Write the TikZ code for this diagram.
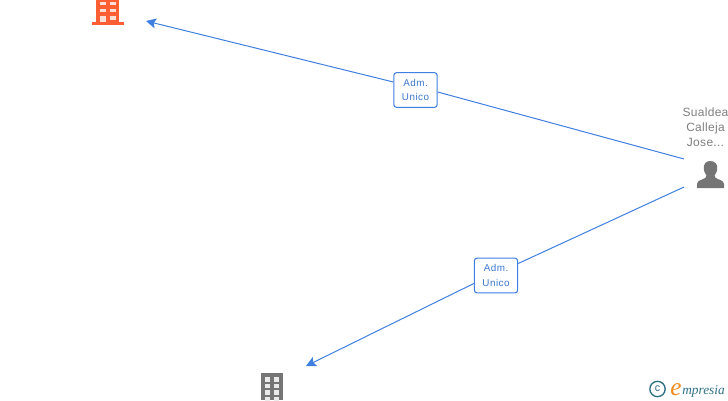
\documentclass[tikz,border=0pt]{standalone}
\usepackage{fontspec}
\setmainfont{Liberation Sans}
\newfontfamily\logofont{Liberation Serif}
\newfontfamily\spacedfont[LetterSpace=5]{Liberation Sans}
\newfontfamily\personfont[LetterSpace=2.5]{Liberation Sans}
\usetikzlibrary{arrows.meta}
\definecolor{linkblue}{HTML}{3F7FE0}
\definecolor{labelblue}{HTML}{3A78D0}
\definecolor{iconorange}{HTML}{FF5F33}
\definecolor{icongrey}{HTML}{757575}
\definecolor{textgrey}{HTML}{808080}
\definecolor{logoteal}{HTML}{2F6F85}
\definecolor{logoorange}{HTML}{F28A1E}
\tikzset{
  conn/.style={draw=linkblue,line width=0.75pt},
  connarrow/.style={conn,-{Stealth[length=7.5pt,width=7.5pt,inset=1.5pt]}},
  rolelabel/.style={draw=linkblue,fill=white,rounded corners=2pt,line width=0.8pt,
    minimum width=32.5pt,minimum height=26pt,inner sep=0pt,align=center,
    text=labelblue,font=\spacedfont\fontsize{7.4}{11.2}\selectfont},
  persontext/.style={text=textgrey,align=center,inner sep=0pt,
    font=\personfont\fontsize{9}{11.2}\selectfont},
}
\begin{document}
\begin{tikzpicture}[x=0.75pt,y=-0.75pt]
\useasboundingbox (0,0) rectangle (728,400);
% orange building
\fill[iconorange] (96,0) rectangle (119,23);
\fill[iconorange] (92,22) rectangle (124,25);
\foreach \c in {100,110}{
  \fill[white!80!iconorange] (\c,1.5) rectangle +(5.5,3.5);
  \fill[white!80!iconorange] (\c,8.5) rectangle +(5.5,3.5);
}
\fill[white!80!iconorange] (100,15.5) rectangle (105.5,22);
\fill[white!80!iconorange] (110,15.5) rectangle (115.5,20);
% grey building
\fill[icongrey] (261,373) rectangle (283,400);
\foreach \c in {264.5,273.5}{\foreach \r in {377,383.5,390,396.5}{
  \fill[white!85!icongrey] (\c,\r) rectangle +(5.5,4.5);
}}
% person
\fill[icongrey] (710,161) .. controls (705.5,161) and (703.5,164.5) .. (703.8,168.5)
  .. controls (704,172) and (705.5,174) .. (706.5,175.5)
  .. controls (706.5,177.5) and (705,178.5) .. (702,179.5)
  .. controls (698.5,180.8) and (697,182) .. (697,184)
  -- (697,188) -- (724,188) -- (724,184)
  .. controls (724,182) and (722.5,180.8) .. (719,179.5)
  .. controls (716,178.5) and (714.5,177.5) .. (714.5,175.5)
  .. controls (715.5,174) and (717,172) .. (717.2,168.5)
  .. controls (717.5,164.5) and (715.5,161) .. (710,161) -- cycle;
\node[persontext] (person) at (705.5,127) {Sualdea\\Calleja\\Jose...};
% connector ends
\coordinate (p1) at (684,159);
\coordinate (p2) at (684,187);
\coordinate (t1) at (146,21);
\coordinate (t2) at (306,366);
% labels
\node[rolelabel] (lab1) at (415.5,90) {Adm.\\Unico};
\node[rolelabel] (lab2) at (496,275.5) {Adm.\\Unico};
% connectors
\draw[conn] (p1) -- ([yshift=-1.5pt]lab1.east);
\draw[connarrow] ([yshift=6pt]lab1.west) -- (t1);
\draw[conn] (p2) -- ([yshift=9pt]lab2.east);
\draw[connarrow] ([yshift=-6pt]lab2.west) -- (t2);
% logo
\node[draw=logoteal,line width=1pt,circle,minimum size=11.5pt,inner sep=0pt,text=logoteal,
  font=\fontsize{8}{8}\selectfont] (copy) at (657.5,389) {c};
\node[anchor=base west,inner sep=0pt,text=logoorange,font=\logofont\itshape\fontsize{19}{19}\selectfont] (loge) at (670,395) {e};
\node[anchor=base west,inner sep=0pt,text=logoteal,font=\logofont\itshape\fontsize{10}{10}\selectfont] (logt) at (682,394) {mpresia};
\end{tikzpicture}
\end{document}
